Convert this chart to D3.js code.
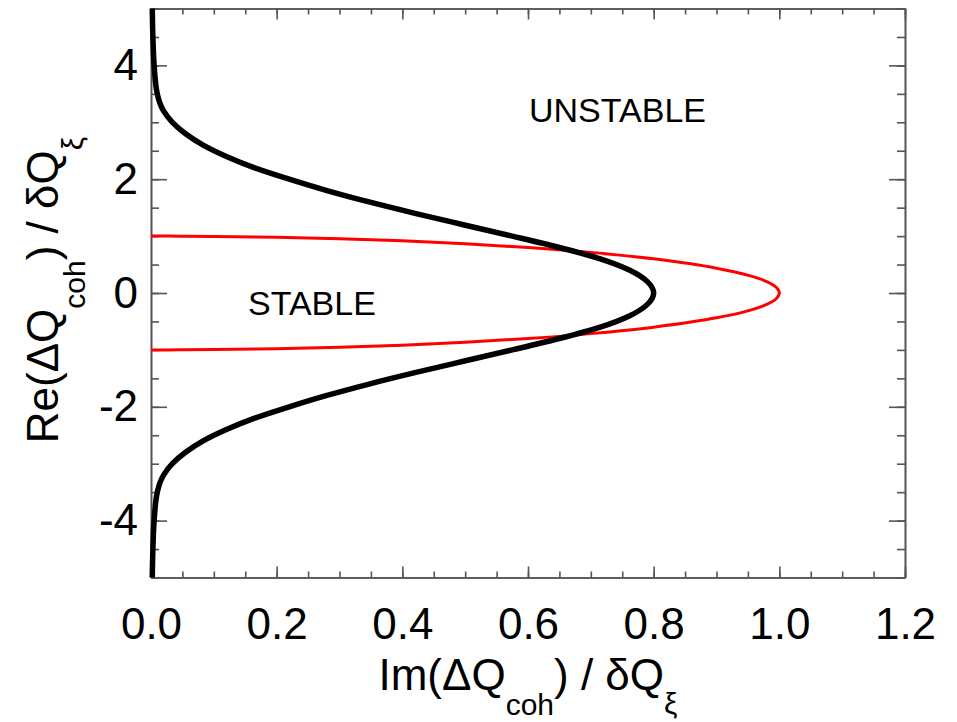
<!DOCTYPE html>
<html>
<head>
<meta charset="utf-8">
<script src="https://cdn.jsdelivr.net/npm/d3@7"></script>
<style>
  body { margin: 0; background: #fff; }
  svg { font-family: "Liberation Sans", Arial, Helvetica, sans-serif; }
</style>
</head>
<body>
<svg id="chart" width="957" height="722"></svg>
<script>
// tick values
const xTicks = [0, 0.2, 0.4, 0.6, 0.8, 1.0, 1.2];
const yTicks = [-4, -2, 0, 2, 4];

// black curve: Re and Im
const blackRe = [5.0, 4.5, 4.0, 3.5, 3.2, 3.0, 2.8, 2.6, 2.4, 2.2, 2.0, 1.8, 1.6, 1.4, 1.2, 1.0, 0.8, 0.6, 0.4, 0.2, 0,
                 -0.2, -0.4, -0.6, -0.8, -1.0, -1.2, -1.4, -1.6, -1.8, -2.0, -2.2, -2.4, -2.6, -2.8, -3.0, -3.2, -3.5, -4.0, -4.5, -5.0];
const blackIm = [0.002, 0.003, 0.005, 0.01, 0.02, 0.034, 0.055, 0.083, 0.12, 0.165, 0.22, 0.28, 0.347, 0.42, 0.497, 0.575, 0.65, 0.715, 0.762, 0.79, 0.80,
                 0.79, 0.762, 0.715, 0.65, 0.575, 0.497, 0.42, 0.347, 0.28, 0.22, 0.165, 0.12, 0.083, 0.055, 0.034, 0.02, 0.01, 0.005, 0.003, 0.002];

// red curve
const redRe = [1.0, 0.999, 0.995, 0.98, 0.954, 0.917, 0.866, 0.8, 0.714, 0.6, 0.436, 0.3, 0.2, 0.1, 0,
               -0.1, -0.2, -0.3, -0.436, -0.6, -0.714, -0.8, -0.866, -0.917, -0.954, -0.98, -0.995, -0.999, -1.0];
const redIm = [0, 0.045, 0.1, 0.2, 0.3, 0.4, 0.5, 0.6, 0.7, 0.8, 0.9, 0.954, 0.98, 0.995, 1.0,
               0.995, 0.98, 0.954, 0.9, 0.8, 0.7, 0.6, 0.5, 0.4, 0.3, 0.2, 0.1, 0.045, 0];

const svg = d3.select("#chart");
const plotLeft = 151, plotRight = 905, plotTop = 8.5, plotBottom = 577.5;

const x = d3.scaleLinear().domain([0, 1.2]).range([plotLeft, plotRight]);
const y = d3.scaleLinear().domain([-5, 5]).range([plotBottom, plotTop]);

const xMinor = d3.range(0, 1.2001, 0.05);
const yMinor = d3.range(-5, 5.001, 0.5);

function styleAxis(g) {
  g.selectAll("path, line").attr("stroke", "#555").attr("stroke-width", 1.6);
  g.selectAll("text").attr("fill", "#000").attr("font-size", 44);
}

// minor ticks, all four sides
svg.append("g").attr("transform", `translate(0,${plotBottom})`)
  .call(d3.axisBottom(x).tickValues(xMinor).tickFormat("").tickSize(-6).tickSizeOuter(0)).call(styleAxis);
svg.append("g").attr("transform", `translate(0,${plotTop})`)
  .call(d3.axisTop(x).tickValues(xMinor).tickFormat("").tickSize(-6).tickSizeOuter(0)).call(styleAxis);
svg.append("g").attr("transform", `translate(${plotLeft},0)`)
  .call(d3.axisLeft(y).tickValues(yMinor).tickFormat("").tickSize(-8).tickSizeOuter(0)).call(styleAxis);
svg.append("g").attr("transform", `translate(${plotRight},0)`)
  .call(d3.axisRight(y).tickValues(yMinor).tickFormat("").tickSize(-8).tickSizeOuter(0)).call(styleAxis);

// major ticks
svg.append("g").attr("transform", `translate(0,${plotBottom})`)
  .call(d3.axisBottom(x).tickValues(xTicks).tickFormat(d3.format(".1f")).tickSize(-11).tickSizeOuter(0).tickPadding(30))
  .call(styleAxis);
svg.append("g").attr("transform", `translate(0,${plotTop})`)
  .call(d3.axisTop(x).tickValues(xTicks).tickFormat("").tickSize(-11).tickSizeOuter(0)).call(styleAxis);
svg.append("g").attr("transform", `translate(${plotLeft},0)`)
  .call(d3.axisLeft(y).tickValues(yTicks).tickFormat(d => d < 0 ? "-" + Math.abs(d) : String(d)).tickSize(-16).tickSizeOuter(0).tickPadding(13))
  .call(styleAxis);
svg.append("g").attr("transform", `translate(${plotRight},0)`)
  .call(d3.axisRight(y).tickValues(yTicks).tickFormat("").tickSize(-16).tickSizeOuter(0)).call(styleAxis);

// curves
const redLine = d3.line().x(d => x(d[1])).y(d => y(d[0])).curve(d3.curveCatmullRom.alpha(0.5));
const blackLine = d3.line().x(d => x(d[1])).y(d => y(d[0])).curve(d3.curveMonotoneY);

svg.append("path")
  .datum(redRe.map((r, i) => [r, redIm[i]]))
  .attr("fill", "none").attr("stroke", "#ff0000").attr("stroke-width", 3)
  .attr("d", redLine);

svg.append("path")
  .datum(blackRe.map((r, i) => [r, blackIm[i]]))
  .attr("fill", "none").attr("stroke", "#000").attr("stroke-width", 5.5)
  .attr("d", blackLine);

// region labels
svg.append("text").attr("x", 529).attr("y", 122).attr("font-size", 34).text("UNSTABLE");
svg.append("text").attr("x", 248).attr("y", 315).attr("font-size", 34).text("STABLE");

// axis titles
const xt = svg.append("text").attr("x", (plotLeft + plotRight) / 2).attr("y", 690)
  .attr("text-anchor", "middle").attr("font-size", 44);
xt.append("tspan").text("Im(ΔQ");
xt.append("tspan").attr("font-size", 30).attr("dy", 25).text("coh");
xt.append("tspan").attr("dy", -25).text(") / δQ");
xt.append("tspan").attr("font-size", 30).attr("dy", 24).text("ξ");

const yt = svg.append("text").attr("transform", `translate(58,290) rotate(-90)`)
  .attr("text-anchor", "middle").attr("font-size", 44);
yt.append("tspan").text("Re(ΔQ");
yt.append("tspan").attr("font-size", 30).attr("dy", 27).text("coh");
yt.append("tspan").attr("dy", -27).text(") / δQ");
yt.append("tspan").attr("font-size", 30).attr("dy", 25).text("ξ");
</script>
</body>
</html>
